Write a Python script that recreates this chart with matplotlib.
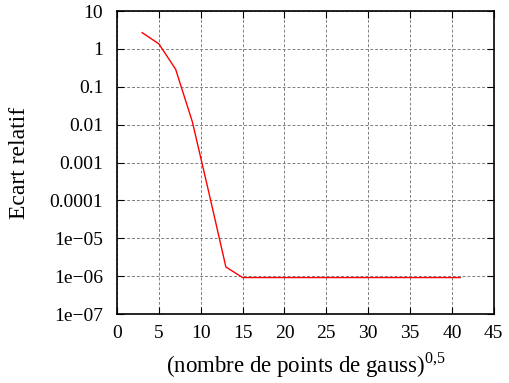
import numpy as np
import matplotlib.pyplot as plt
from matplotlib.ticker import LogLocator, FixedFormatter, MultipleLocator

plt.rcParams['font.family'] = ['Liberation Serif', 'DejaVu Serif']
plt.rcParams['mathtext.fontset'] = 'custom'
plt.rcParams['mathtext.rm'] = 'Liberation Serif'

# racine du nombre de points de gauss
n_gauss = [3, 5, 7, 9, 11, 13, 15, 17, 19, 21, 23, 25, 27, 29, 31, 33, 35, 37, 39, 41]
ecart = [2.7, 1.36, 0.29, 0.0118, 1.5e-4, 1.75e-6, 9.2e-7, 9.2e-7, 9.2e-7, 9.2e-7,
         9.2e-7, 9.2e-7, 9.2e-7, 9.2e-7, 9.2e-7, 9.2e-7, 9.2e-7, 9.2e-7, 9.2e-7, 9.2e-7]

y_ticks = [1e-7, 1e-6, 1e-5, 1e-4, 1e-3, 1e-2, 1e-1, 1, 10]
y_labels = ['1e\u221207', '1e\u221206', '1e\u221205', '0.0001', '0.001', '0.01', '0.1', '1', '10']

fig = plt.figure(figsize=(5.09, 3.83), dpi=100)
ax = fig.add_axes([0.230, 0.180, 0.740, 0.791])

ax.plot(n_gauss, ecart, color='red', lw=1.0)

ax.set_yscale('log')
ax.set_xlim(0, 45)
ax.set_ylim(1e-7, 10)
ax.xaxis.set_major_locator(MultipleLocator(5))
ax.set_yticks(y_ticks)
ax.yaxis.set_major_formatter(FixedFormatter(y_labels))
ax.yaxis.set_minor_locator(LogLocator(base=10, subs=(2.0, 5.0)))
ax.yaxis.set_minor_formatter(plt.NullFormatter())

ax.tick_params(which='both', direction='in', top=True, right=True, labelsize=14)
ax.tick_params(axis='y', pad=10)
ax.tick_params(axis='x', pad=8)
ax.tick_params(which='major', length=5, width=0.8)
ax.tick_params(which='minor', length=3, width=0.8)

ax.grid(True, which='major', color='gray', linestyle=(0, (3, 2)), lw=0.7)
for s in ax.spines.values():
    s.set_linewidth(1.2)

ax.set_xlabel('(nombre de points de gauss)$^{\\mathrm{0{,}5}}$', fontsize=16.5, labelpad=6)
ax.set_ylabel('Ecart relatif', fontsize=17, labelpad=14)

fig.savefig('out.png', dpi=100)
